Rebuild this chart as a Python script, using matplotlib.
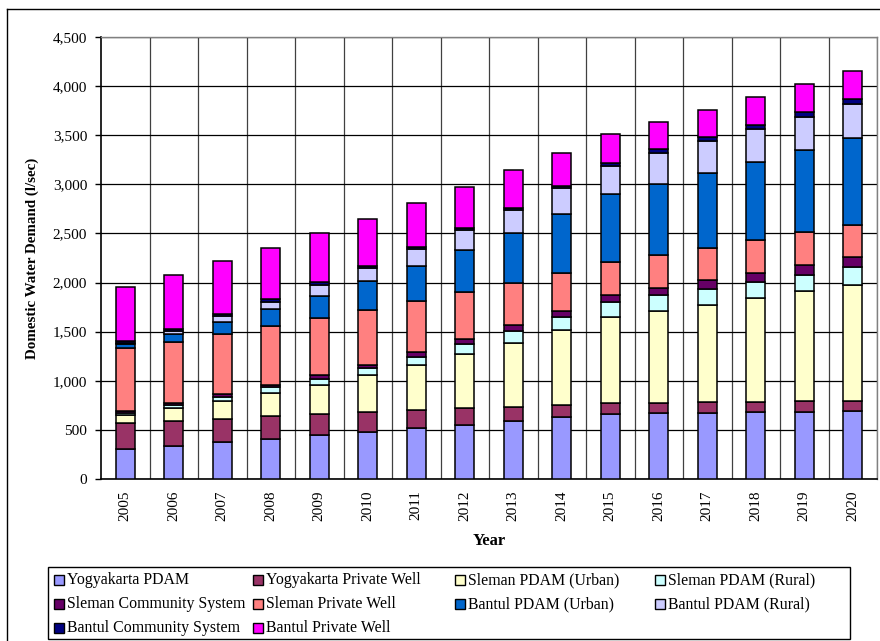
import matplotlib
matplotlib.use("Agg")
import matplotlib.pyplot as plt
import matplotlib.patches as mpatches
from matplotlib.lines import Line2D
from matplotlib.ticker import FuncFormatter, MultipleLocator
import numpy as np

plt.rcParams['font.family'] = ['Liberation Serif', 'DejaVu Serif']

years = [str(y) for y in range(2005, 2021)]

yogyakarta_pdam = [305, 339, 377, 410, 451, 482, 516, 550, 590, 628, 665, 669, 675, 685, 685, 692]
yogyakarta_private_well = [262, 254, 237, 231, 211, 197, 186, 170, 146, 125, 106, 108, 106, 102, 106, 105]
sleman_pdam_urban = [88, 130, 183, 237, 298, 377, 458, 552, 652, 761, 881, 933, 993, 1053, 1120, 1181]
sleman_pdam_rural = [20, 30, 41, 55, 61, 71, 85, 99, 119, 138, 150, 160, 163, 169, 169, 177]
sleman_community = [14, 21, 24, 27, 35, 34, 51, 54, 58, 61, 68, 74, 89, 91, 102, 108]
sleman_private_well = [641, 624, 614, 597, 580, 559, 516, 479, 433, 387, 342, 336, 329, 330, 329, 326]
bantul_pdam_urban = [44, 78, 125, 174, 227, 292, 356, 427, 509, 598, 686, 723, 757, 797, 838, 879]
bantul_pdam_rural = [14, 34, 61, 74, 115, 136, 170, 204, 231, 264, 292, 313, 326, 336, 339, 352]
bantul_community = [12, 20, 18, 27, 27, 20, 21, 23, 24, 26, 30, 43, 40, 44, 45, 48]
bantul_private_well = [555, 550, 535, 523, 495, 482, 451, 412, 388, 332, 290, 271, 282, 283, 287, 282]

series_labels = [
    "Yogyakarta PDAM", "Yogyakarta Private Well", "Sleman PDAM (Urban)",
    "Sleman PDAM (Rural)", "Sleman Community System", "Sleman Private Well",
    "Bantul PDAM (Urban)", "Bantul PDAM (Rural)", "Bantul Community System",
    "Bantul Private Well",
]
series_values = [
    yogyakarta_pdam, yogyakarta_private_well, sleman_pdam_urban,
    sleman_pdam_rural, sleman_community, sleman_private_well,
    bantul_pdam_urban, bantul_pdam_rural, bantul_community,
    bantul_private_well,
]
series_colors = [
    "#9999FF", "#993366", "#FFFFCC", "#CCFFFF", "#660066",
    "#FF8080", "#0066CC", "#CCCCFF", "#000080", "#FF00FF",
]

W, H = 880, 641
fig = plt.figure(figsize=(W / 100, H / 100), dpi=100)

# outer chart frame (left and top edges visible)
fig.add_artist(Line2D([7 / W, 7 / W], [0, 1 - 9 / H], color="black", lw=1.0,
                      transform=fig.transFigure))
fig.add_artist(Line2D([7 / W, 1], [1 - 9 / H, 1 - 9 / H], color="black", lw=1.0,
                      transform=fig.transFigure))

ax_l, ax_r, ax_t, ax_b = 101, 877, 37, 479
ax = fig.add_axes([ax_l / W, 1 - ax_b / H, (ax_r - ax_l) / W, (ax_b - ax_t) / H])

x = np.arange(len(years))
bottom = np.zeros(len(years))
for vals, col, lab in zip(series_values, series_colors, series_labels):
    v = np.array(vals, dtype=float)
    ax.bar(x, v, width=0.4, bottom=bottom, color=col, edgecolor="black",
           linewidth=1.1, label=lab, zorder=3)
    bottom += v

ax.set_xlim(-0.5, len(years) - 0.5)
ax.set_ylim(0, 4500)
ax.yaxis.set_major_locator(MultipleLocator(500))
ax.yaxis.set_major_formatter(FuncFormatter(lambda v, p: f"{int(v):,}"))
ax.grid(axis="y", color="black", lw=0.9, zorder=0)
for b in np.arange(-0.5, len(years), 1.0)[1:]:
    ax.axvline(b, color="#404040", lw=0.9, zorder=0)

ax.set_xticks(x)
ax.set_xticklabels(years, rotation=90, fontsize=11)
ax.tick_params(axis="x", length=0, pad=8)
ax.tick_params(axis="y", labelsize=11, length=4, width=1, direction="out", pad=6)

for s in ("top", "right"):
    ax.spines[s].set_color("#808080")
    ax.spines[s].set_linewidth(1.0)
for s in ("left", "bottom"):
    ax.spines[s].set_color("black")
    ax.spines[s].set_linewidth(1.2)

ax.set_ylabel("Domestic Water Demand (l/sec)", fontsize=10.8, fontweight="bold",
              labelpad=10)
ax.set_xlabel("Year", fontsize=12, fontweight="bold", labelpad=9)

# legend box laid out in rows of four
lg_l, lg_r, lg_t, lg_b = 48, 850, 567, 639
fig.add_artist(mpatches.Rectangle((lg_l / W, 1 - lg_b / H), (lg_r - lg_l) / W,
                                  (lg_b - lg_t) / H, transform=fig.transFigure,
                                  facecolor="white", edgecolor="black", lw=1.0))
col_x = [54, 253, 455, 655]
row_y = [580, 604, 628]
sq = 10
for i, (lab, col) in enumerate(zip(series_labels, series_colors)):
    cx = col_x[i % 4]
    cy = row_y[i // 4]
    fig.add_artist(mpatches.Rectangle((cx / W, 1 - (cy + sq / 2) / H), sq / W, sq / H,
                                      transform=fig.transFigure, facecolor=col,
                                      edgecolor="black", lw=1.0))
    fig.text((cx + sq + 3) / W, 1 - cy / H, lab, fontsize=11.4, va="center", ha="left")

fig.savefig("out.png", dpi=100)
